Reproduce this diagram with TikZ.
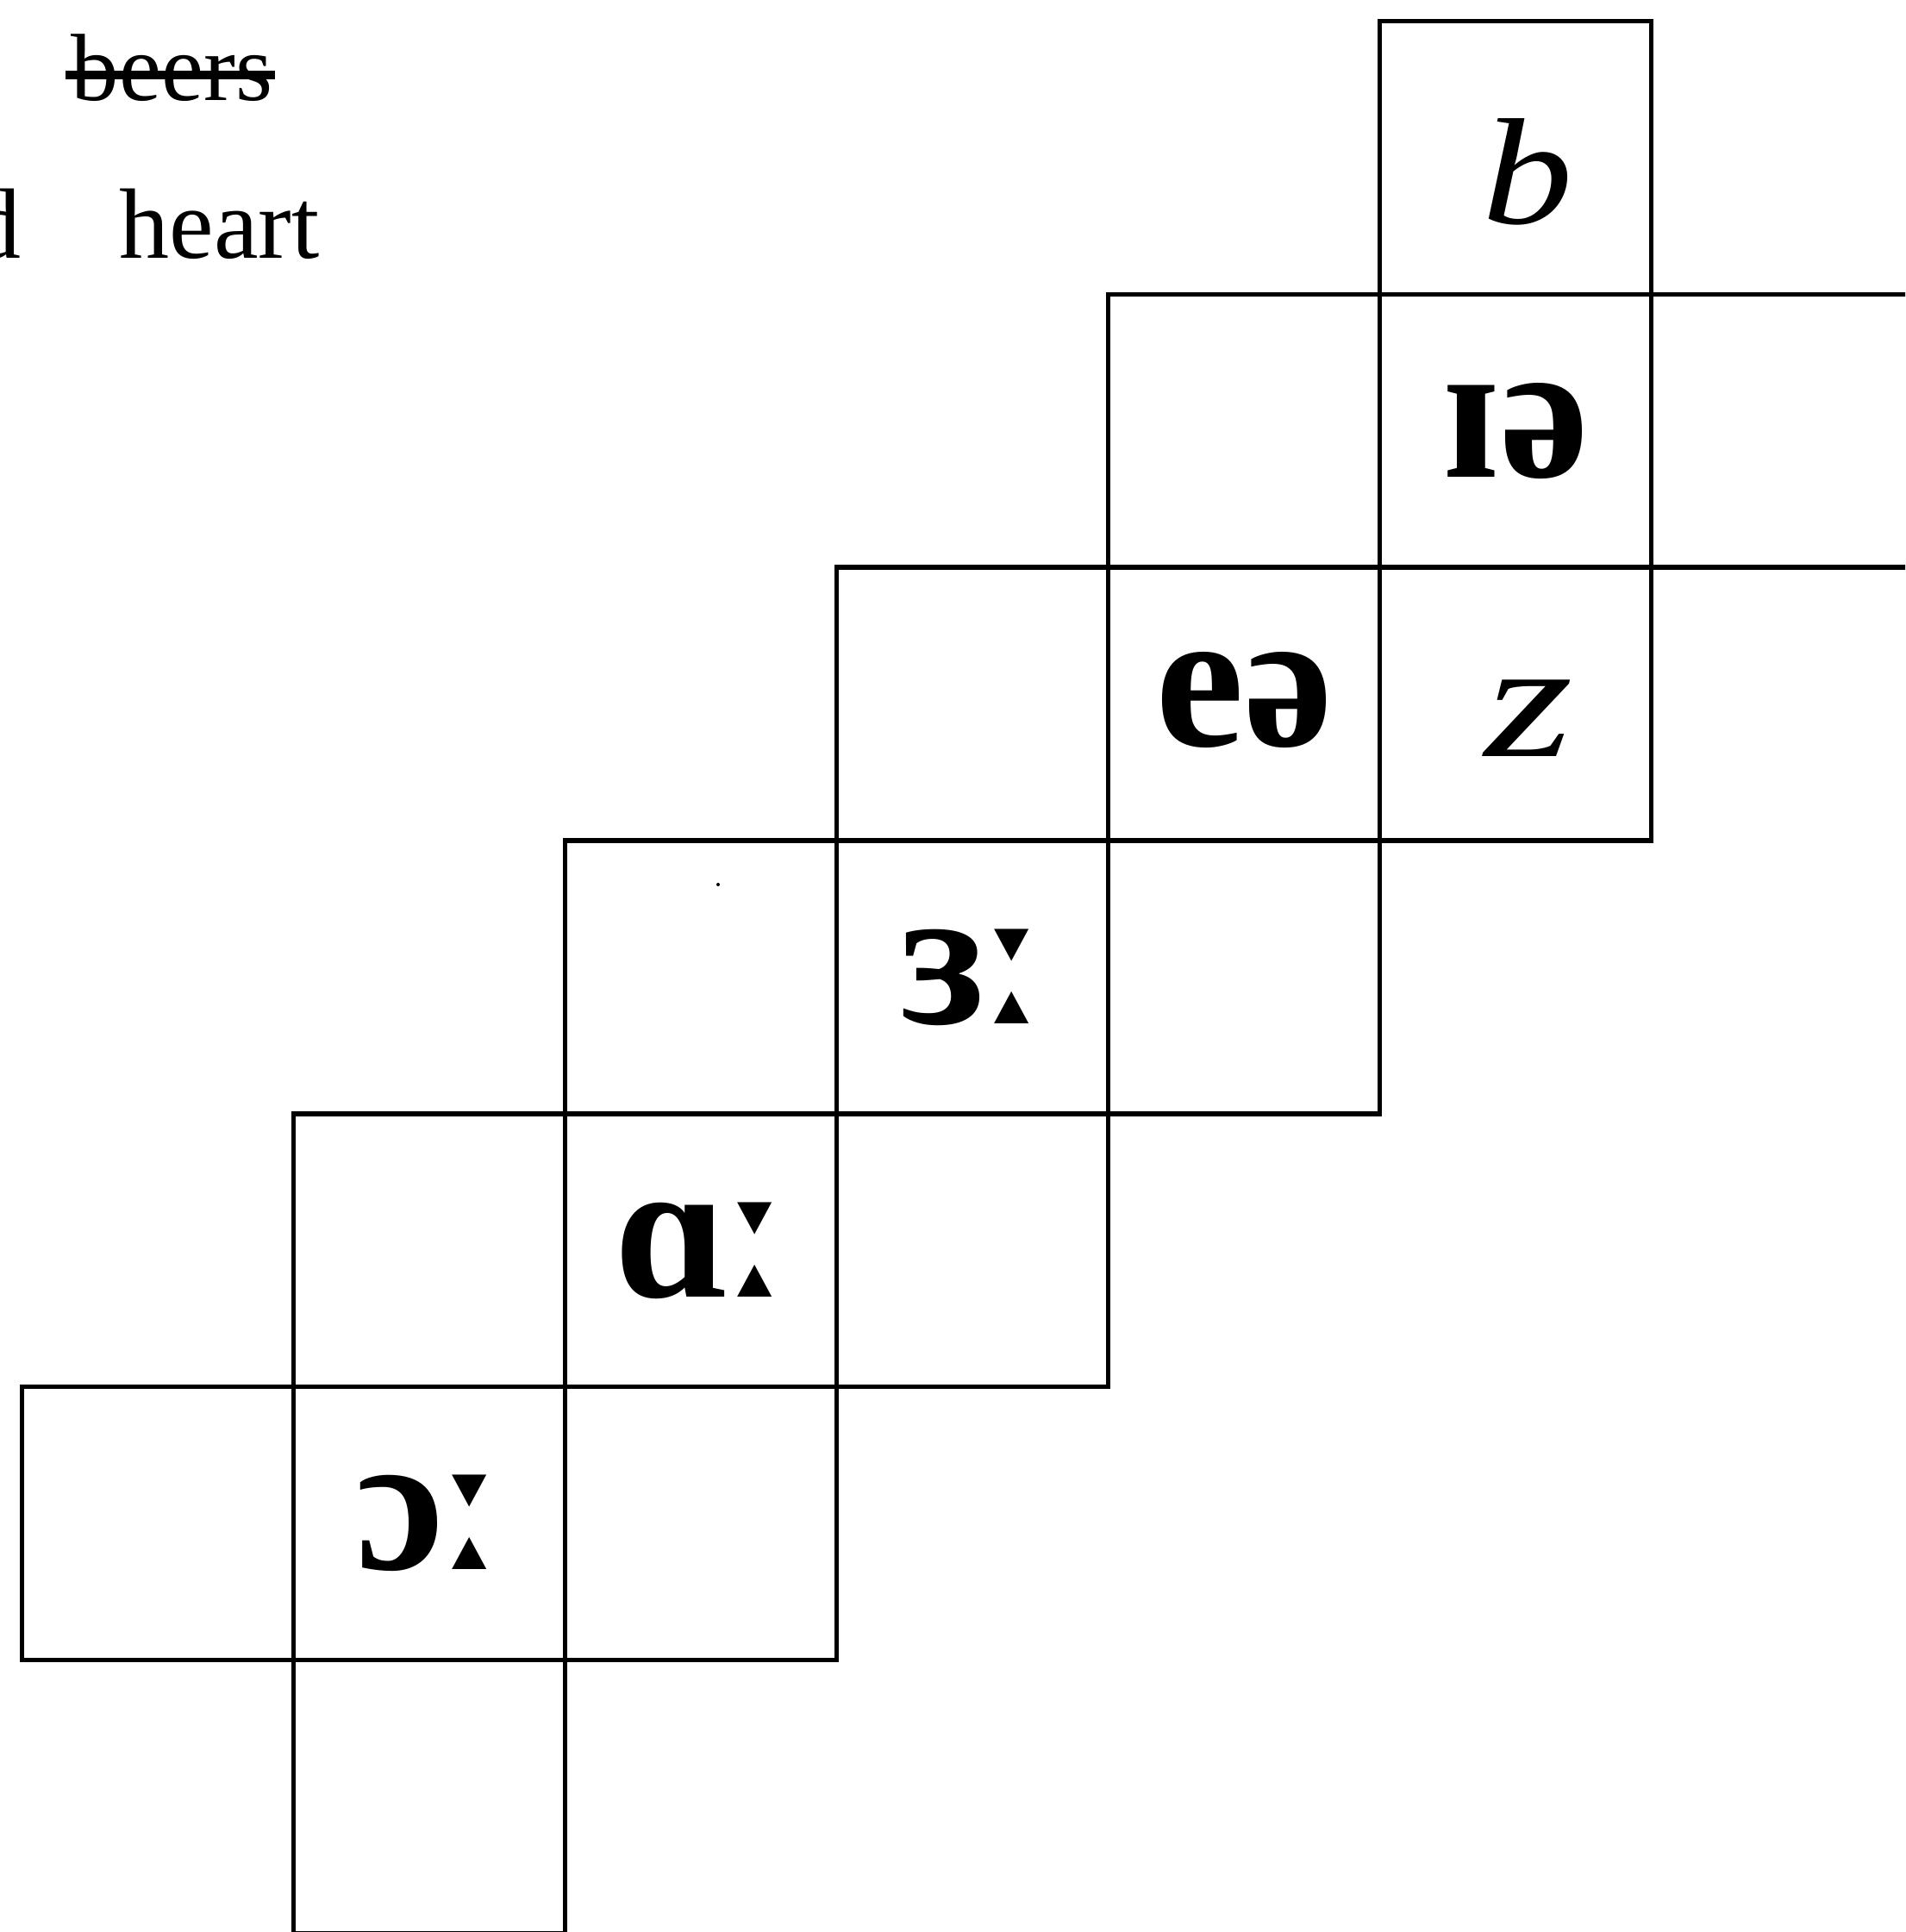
\documentclass[tikz,border=0pt]{standalone}
\usepackage{fontspec}
\setmainfont{Liberation Serif}
\newfontfamily\ipafont{Liberation Serif}
\newfontfamily\lngfont{DejaVu Sans}
\newcommand{\lng}{{\lngfont\bfseries\fontsize{57}{57}\selectfont ː}}
\tikzset{
  txt/.style={inner sep=0pt, font=\fontsize{33}{33}\selectfont},
  cellbox/.style={draw, line width=1.5pt, minimum width=3.15cm, minimum height=3.169cm, inner sep=0pt},
  ipa/.style={inner sep=0pt, font=\ipafont\bfseries\fontsize{66}{66}\selectfont},
  hand/.style={inner sep=0pt, font=\ipafont\itshape\fontsize{50}{50}\selectfont}
}
\begin{document}
\begin{tikzpicture}
\useasboundingbox (0,0) rectangle (22.10,-22.41);
\clip (0,0) rectangle (22.10,-22.41);
% texts at top left
\node[txt, font=\fontsize{31.5}{31.5}\selectfont, anchor=base west] (beers) at (0.82,-1.17) {beers};
\draw[line width=3pt] ([xshift=-0.06cm,yshift=0.30cm]beers.base west) -- ([xshift=0.02cm,yshift=0.30cm]beers.base east);
\node[txt, anchor=base east] (d) at (0.25,-3.00) {d};
\node[txt, anchor=base west] (heart) at (1.38,-3.00) {heart};
% grid of cells
\begin{scope}[x=3.15cm, y=-3.169cm, shift={(0.257cm,-0.243cm)}]
\node[cellbox] (r0c5) at (5.5,0.5) {};
\node[cellbox] (r1c4) at (4.5,1.5) {};
\node[cellbox] (r1c5) at (5.5,1.5) {};
\node[cellbox] (r1c6) at (6.5,1.5) {};
\node[cellbox] (r2c3) at (3.5,2.5) {};
\node[cellbox] (r2c4) at (4.5,2.5) {};
\node[cellbox] (r2c5) at (5.5,2.5) {};
\node[cellbox] (r3c2) at (2.5,3.5) {};
\node[cellbox] (r3c3) at (3.5,3.5) {};
\node[cellbox] (r3c4) at (4.5,3.5) {};
\node[cellbox] (r4c1) at (1.5,4.5) {};
\node[cellbox] (r4c2) at (2.5,4.5) {};
\node[cellbox] (r4c3) at (3.5,4.5) {};
\node[cellbox] (r5c0) at (0.5,5.5) {};
\node[cellbox] (r5c1) at (1.5,5.5) {};
\node[cellbox] (r5c2) at (2.5,5.5) {};
\node[cellbox] (r6c1) at (1.5,6.5) {};
\end{scope}
% symbols in the cells
\node[hand] (tb) at ([xshift=0.14cm,yshift=-0.17cm]r0c5.center) {\scalebox{1.2}[1]{b}};
\node[ipa] (tie) at (r1c5.center) {ɪə};
\node[ipa] (tea) at ([yshift=0.05cm]r2c4.center) {eə};
\node[hand] (tz) at ([xshift=0.16cm,yshift=-0.165cm]r2c5.center) {\scalebox{1.5}[1.1]{z}};
\node[ipa] (ter) at (r3c3.center) {ɜ\lng};
\node[ipa] (tar) at (r4c2.center) {ɑ\lng};
\node[ipa] (tor) at (r5c1.center) {ɔ\lng};
\fill (8.33,-10.26) circle (0.02);
\end{tikzpicture}
\end{document}
